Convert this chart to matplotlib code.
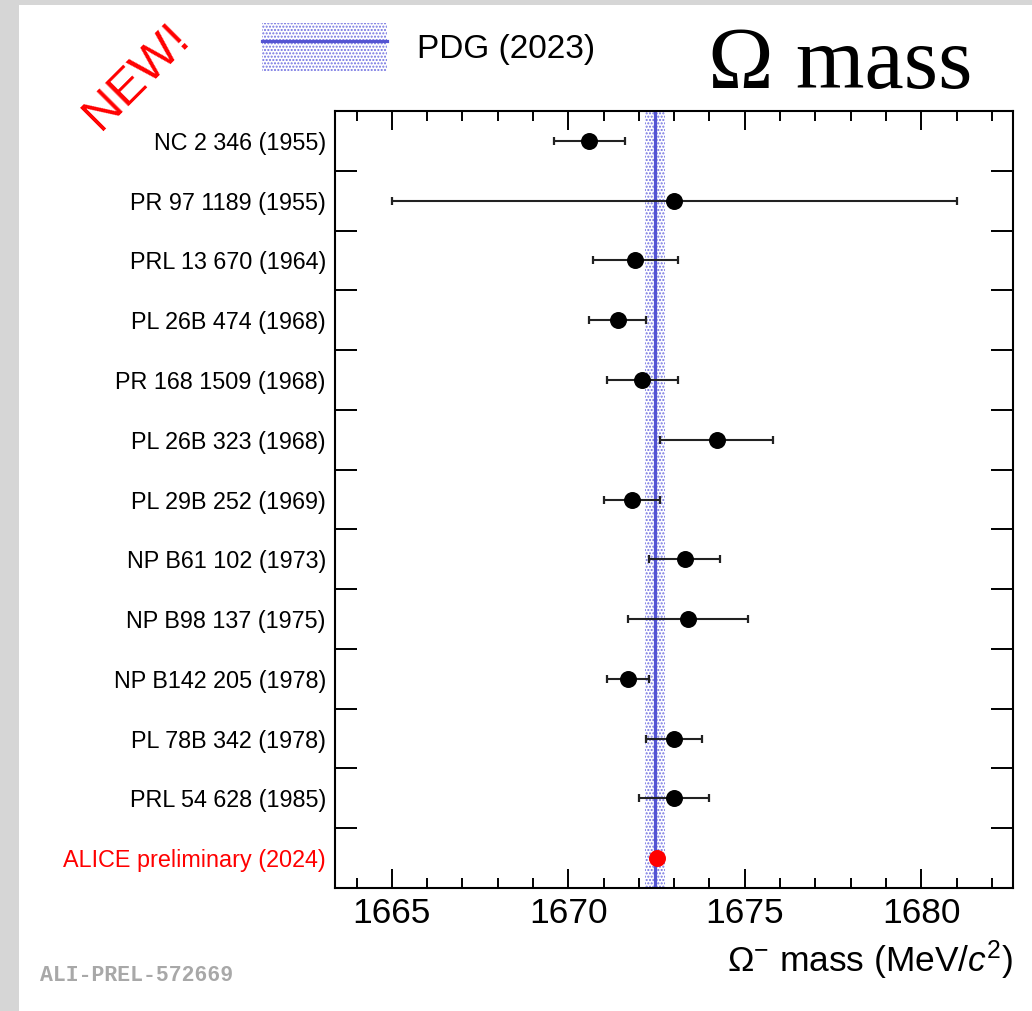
import numpy as np
import matplotlib
matplotlib.use("Agg")
import matplotlib.pyplot as plt
from matplotlib.patches import Rectangle
from matplotlib.ticker import MultipleLocator, FixedLocator
from matplotlib.legend_handler import HandlerTuple

plt.rcParams['font.family'] = ['Liberation Sans', 'DejaVu Sans']
plt.rcParams['mathtext.fontset'] = 'custom'
plt.rcParams['mathtext.rm'] = 'Liberation Sans'
plt.rcParams['mathtext.it'] = 'Liberation Sans:italic'
plt.rcParams['hatch.linewidth'] = 1.0

# ---------------- data ----------------
labels = ["NC 2 346 (1955)", "PR 97 1189 (1955)", "PRL 13 670 (1964)",
          "PL 26B 474 (1968)", "PR 168 1509 (1968)", "PL 26B 323 (1968)",
          "PL 29B 252 (1969)", "NP B61 102 (1973)", "NP B98 137 (1975)",
          "NP B142 205 (1978)", "PL 78B 342 (1978)", "PRL 54 628 (1985)"]
mass = [1670.6, 1673.0, 1671.9, 1671.4, 1672.1, 1674.2,
        1671.8, 1673.3, 1673.4, 1671.7, 1673.0, 1673.0]
err = [1.0, 8.0, 1.2, 0.8, 1.0, 1.6,
       0.8, 1.0, 1.7, 0.6, 0.8, 1.0]

alice_label = "ALICE preliminary (2024)"
alice_mass = 1672.51

pdg_label = "PDG (2023)"
pdg_mass = 1672.45
pdg_err = 0.29

xticks_major = [1665, 1670, 1675, 1680]

# ---------------- figure ----------------
W, H = 1032, 1011
fig = plt.figure(figsize=(W / 100, H / 100), dpi=100)
fig.patch.set_facecolor('#d6d6d6')
fig.add_artist(Rectangle((19 / W, 0), 1 - 19 / W, 1 - 5 / H,
                         transform=fig.transFigure, facecolor='white',
                         edgecolor='none', zorder=0))

ax = fig.add_axes([335 / W, 1 - 888 / H, (1013 - 335) / W, (888 - 111) / H])
ax.set_facecolor('white')

all_labels = labels + [alice_label]
n = len(all_labels)
ypos = np.arange(n)[::-1]          # top row = n-1
y_meas = ypos[:len(labels)]
y_alice = ypos[-1]

pdg_col = '#5454d2'
band = ax.axvspan(pdg_mass - pdg_err, pdg_mass + pdg_err, facecolor='none',
                  edgecolor='#7070e0', hatch='.....', linewidth=0, zorder=1)
pline = ax.axvline(pdg_mass, color=pdg_col, lw=2.3, zorder=2)

ax.errorbar(mass, y_meas, xerr=err, fmt='o', color='black', ecolor='#222222',
            elinewidth=1.5, capsize=2.8, capthick=1.6, markersize=11.2,
            zorder=4)
ax.plot([alice_mass], [y_alice], 'o', color='#ff0000', markersize=11.2,
        zorder=5)

ax.set_xlim(1663.39, 1682.6)
ax.set_ylim(-0.5, n - 0.5)

# x ticks
ax.xaxis.set_major_locator(FixedLocator(xticks_major))
ax.xaxis.set_minor_locator(MultipleLocator(1))
ax.tick_params(axis='x', which='major', direction='in', length=14, width=1.4,
               top=True, bottom=True, labelsize=25.5, pad=6.5)
ax.tick_params(axis='x', which='minor', direction='in', length=7, width=1.4,
               top=True, bottom=True)

# y ticks: labels at row centres, tick marks at row boundaries
ax.set_yticks(ypos)
ax.set_yticklabels(all_labels)
ax.yaxis.set_minor_locator(FixedLocator(np.arange(0.5, n - 1, 1.0)))
ax.tick_params(axis='y', which='major', length=0, labelsize=16.8, pad=6.5)
ax.tick_params(axis='y', which='minor', direction='in', length=16, width=1.4,
               left=True, right=True)
ax.get_yticklabels()[-1].set_color('#ff0000')

for s in ax.spines.values():
    s.set_linewidth(1.5)

ax.set_xlabel('Ω$^{-}$ mass (MeV/$c^{2}$)', fontsize=25.5, loc='right',
              labelpad=6)

# legend
leg = ax.legend([(band, pline)], [pdg_label],
                handler_map={tuple: HandlerTuple(ndivide=1)},
                loc='center left', bbox_to_anchor=(262 / W, 1 - 47 / H),
                bbox_transform=fig.transFigure, frameon=False, fontsize=24,
                handlelength=3.75, handleheight=1.8, borderpad=0,
                borderaxespad=0, handletextpad=0.9)

# decorations
fig.text(708 / W, 1 - 88 / H, 'Ω mass', family='Liberation Serif',
         fontsize=63.5, ha='left', va='baseline')
fig.text(137 / W, 1 - 77 / H, 'NEW!', color='#ff0000', fontsize=35.5,
         rotation=45, ha='center', va='center')
fig.text(40 / W, 1 - 981 / H, 'ALI-PREL-572669', family='Liberation Mono',
         fontweight='bold', color='#a8a8a8', fontsize=15.5, ha='left',
         va='baseline')

fig.savefig('out.png', dpi=100, facecolor=fig.get_facecolor())
